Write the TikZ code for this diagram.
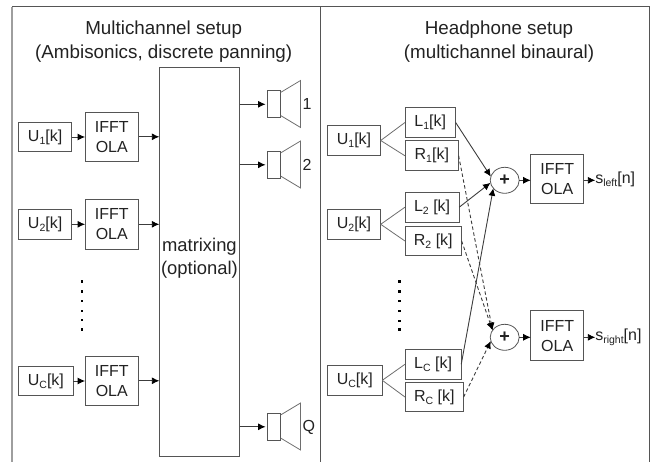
\documentclass[tikz,border=0pt]{standalone}
\usepackage{fontspec}
\setmainfont{Liberation Sans}
\usetikzlibrary{arrows.meta,shapes.geometric}
\definecolor{ln}{HTML}{555555}
\definecolor{tx}{HTML}{222222}
\newcommand\sbs[1]{\smash{\raisebox{-3pt}{\fontsize{10.5}{10}\selectfont #1}}}
\tikzset{
  every node/.style={text=tx,inner sep=0pt,outer sep=0pt},
  bx/.style={draw=ln,line width=0.9pt,fill=white,font=\fontsize{16}{20}\selectfont,align=center},
  spk/.style={draw=ln,line width=0.9pt,fill=white,minimum width=13.5pt,minimum height=27pt},
  sumnode/.style={draw=ln,line width=0.8pt,ellipse,minimum width=29pt,minimum height=26pt,font=\fontsize{18}{20}\selectfont\bfseries},
  ttl/.style={font=\fontsize{18.8}{24}\selectfont,align=center},
  lab/.style={font=\fontsize{16}{20}\selectfont},
  cone/.style={draw=ln!85,line width=0.8pt},
  arr/.style={draw=ln!70!black,line width=0.9pt,-{Latex[length=7.5pt,width=7pt,black]}},
  dsh/.style={arr,dashed,dash pattern=on 3.5pt off 2.5pt},
  sol/.style={arr},
  br/.style={draw=ln!85,line width=0.8pt},
  frm/.style={draw=ln,line width=1pt},
  dotm/.style={fill=black}
}
\begin{document}
\begin{tikzpicture}[x=1pt,y=-1pt]
\useasboundingbox (0,0) rectangle (653,462);
\coordinate (tl) at (12,7); \coordinate (bl) at (12,462);
\coordinate (tm) at (320,7); \coordinate (bm) at (320,462);
\coordinate (tr) at (649,7); \coordinate (br) at (649,462);
\draw[frm] (tl) -- (tr) -- (br);
\draw[frm] (tm) -- (bm);
\draw[draw=black!38,line width=2pt] (tl) -- (bl);
\node[ttl] (t1) at (163.7,41.5) {Multichannel setup\\(Ambisonics, discrete panning)};
\node[ttl] (t2) at (499,41.5) {Headphone setup\\(multichannel binaural)};
% left panel
\node[bx,minimum width=53.5pt,minimum height=29.4pt] (lu1) at (45.1,137) {U\sbs{1}[k]};
\node[bx,minimum width=53.5pt,minimum height=30pt] (lu2) at (45.1,224.3) {U\sbs{2}[k]};
\node[bx,minimum width=55pt,minimum height=29.4pt] (luc) at (45.9,381) {U\sbs{C}[k]};
\node[bx,minimum width=53.5pt,minimum height=49pt] (lf1) at (111.8,136.8) {IFFT\\OLA};
\node[bx,minimum width=53.5pt,minimum height=50pt] (lf2) at (111.8,224.3) {IFFT\\OLA};
\node[bx,minimum width=53.5pt,minimum height=49pt] (lfc) at (111.8,380.8) {IFFT\\OLA};
\node[bx,minimum width=80.2pt,minimum height=389.4pt] (mx) at (199.4,262) {};
\node[font=\fontsize{18.4}{23}\selectfont,align=center] (mxt) at (199.4,258) {matrixing\\(optional)};
\node[spk] (s1) at (273.8,104.3) {};
\node[spk] (s2) at (273.8,164.8) {};
\node[spk] (sq) at (273.8,426.8) {};
\foreach \s in {s1,s2,sq}{
  \draw[cone] (\s.north east) ++(0,1.7) -- ++(20,-12) -- ++(0,47) -- ++(-20,-12);
}
\node[lab,anchor=west] (n1) at (302.5,104.3) {1};
\node[lab,anchor=west] (n2) at (302.5,165) {2};
\node[lab,anchor=west] (nq) at (302.5,427) {Q};
\draw[arr] (lu1) -- (lu1 -| lf1.west);
\draw[arr] (lu2) -- (lu2 -| lf2.west);
\draw[arr] (luc.east) -- (luc.east -| lfc.west);
\draw[arr] (lf1.east) -- (lf1.east -| mx.west);
\draw[arr] (lf2.east) -- (lf2.east -| mx.west);
\draw[arr] (lfc.east) -- (lfc.east -| mx.west);
\draw[arr,shorten >=1.5pt] (s1.west -| mx.east) -- (s1.west);
\draw[arr,shorten >=1.5pt] (s2.west -| mx.east) -- (s2.west);
\draw[arr,shorten >=1.5pt] (sq.west -| mx.east) -- (sq.west);
\foreach \y in {281.7,291.7,301,310.7,320,329.3}{
  \fill[dotm] (80.8,\y-1.2) rectangle (83.2,\y+1.2);
}
\foreach \y in {281.7,291.7,300.7,310.7,320.7,329.3}{
  \fill[dotm] (398.1,\y-1.2) rectangle (400.5,\y+1.2);
}
% right panel
\node[bx,minimum width=53.4pt,minimum height=29.6pt] (u1) at (354,140.5) {U\sbs{1}[k]};
\node[bx,minimum width=53.4pt,minimum height=30pt] (u2) at (354,224.3) {U\sbs{2}[k]};
\node[bx,minimum width=55pt,minimum height=30pt] (uc) at (354.8,380.3) {U\sbs{C}[k]};
\node[bx,minimum width=50.7pt,minimum height=29.6pt] (l1) at (430.3,122.5) {L\sbs{1}[k]};
\node[bx,minimum width=53.7pt,minimum height=29.7pt] (r1) at (431.8,155.8) {R\sbs{1}[k]};
\node[bx,minimum width=54.3pt,minimum height=29.7pt] (l2) at (432.1,207.2) {L\sbs{2} [k]};
\node[bx,minimum width=56.7pt,minimum height=29.4pt] (r2) at (433.3,241) {R\sbs{2} [k]};
\node[bx,minimum width=56.3pt,minimum height=30pt] (lc) at (433.1,364.3) {L\sbs{C} [k]};
\node[bx,minimum width=58.7pt,minimum height=29.4pt] (rc) at (434.3,397) {R\sbs{C} [k]};
\node[sumnode] (p1) at (504.7,180.3) {+};
\node[sumnode] (p2) at (504.7,337.3) {+};
\node[bx,minimum width=53pt,minimum height=49.4pt] (f1) at (557.2,179) {IFFT\\OLA};
\node[bx,minimum width=53pt,minimum height=49.4pt] (f2) at (557.2,335.6) {IFFT\\OLA};
\node[lab,anchor=west] (sl) at (595.3,179) {s\sbs{left}[n]};
\node[lab,anchor=west] (sr) at (595.3,336) {s\sbs{right}[n]};
\foreach \a/\b in {u1/l1,u1/r1,u2/l2,u2/r2,uc/lc,uc/rc}{
  \draw[br] (\a.east) -- (\b.west);
}
\draw[sol] (l1.east) -- (p1.165);
\draw[sol] (l2.east) -- (p1.190);
\draw[sol] (lc.east) -- (p1.215);
\draw[dsh] (r1.east) -- (p2.150);
\draw[dsh] (r2.east) -- (p2.150);
\draw[dsh] (rc.east) -- (p2.195);
\draw[arr] (p1.east) -- (p1.east -| f1.west);
\draw[arr] (p2.east) -- (p2.east -| f2.west);
\draw[arr] (f1.east |- p1.east) -- (sl.west |- p1.east);
\draw[arr] (f2.east |- p2.east) -- (sr.west |- p2.east);
\end{tikzpicture}
\end{document}
